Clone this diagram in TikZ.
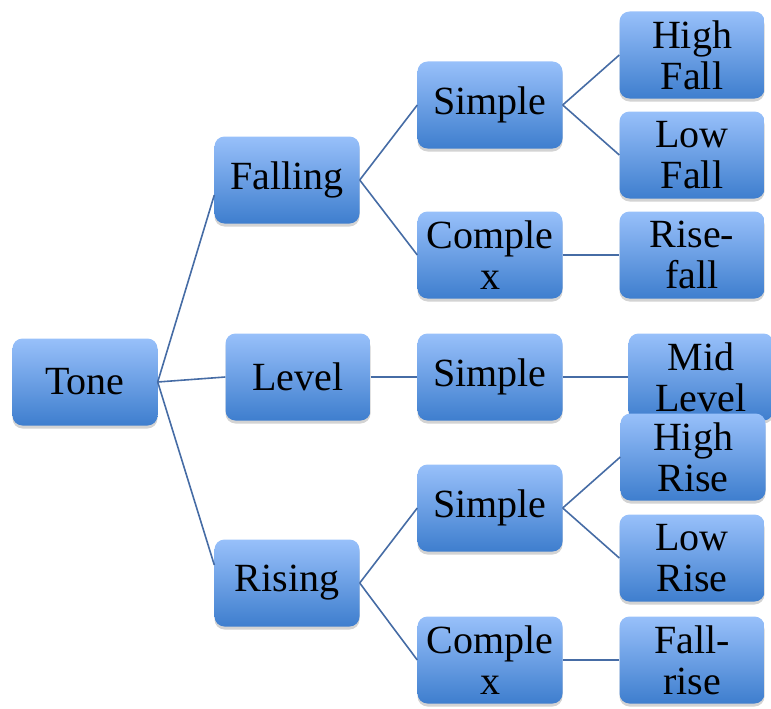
\documentclass[tikz,border=0pt]{standalone}
\usepackage{fontspec}
\setmainfont{Liberation Serif}
\usetikzlibrary{shadows}
\definecolor{boxtop}{RGB}{152,192,250}
\definecolor{boxbot}{RGB}{62,126,206}
\definecolor{linkblue}{RGB}{70,108,165}
\tikzset{
    tonebox/.style={rounded corners=10pt, minimum width=145pt, minimum height=87pt,
        top color=boxtop, bottom color=boxbot, draw=none, align=center,
        font=\fontsize{40}{41}\selectfont, inner sep=0pt,
        drop shadow={shadow xshift=0pt, shadow yshift=-3pt, opacity=0.35}},
    link/.style={draw=linkblue, line width=1.6pt}
}
\begin{document}
\begin{tikzpicture}[x=1pt,y=-1pt]
    \useasboundingbox (0,0) rectangle (771,709);

    % Racine
    \node[tonebox] (tone) at (85,382) {Tone};

    % Premier niveau
    \node[tonebox] (falling) at (287,180) {Falling};
    \node[tonebox] (level) at (298,377) {Level};
    \node[tonebox] (rising) at (287,583) {Rising};

    % Deuxieme niveau
    \node[tonebox] (fsimple) at (490,105) {Simple};
    \node[tonebox] (fcomplex) at (490,255) {Comple\\x};
    \node[tonebox] (lsimple) at (490,377) {Simple};
    \node[tonebox] (rsimple) at (490,508) {Simple};
    \node[tonebox] (rcomplex) at (490,660) {Comple\\x};

    % Feuilles
    \node[tonebox] (highfall) at (692,55) {High\\Fall};
    \node[tonebox] (lowfall) at (692,155) {Low\\Fall};
    \node[tonebox] (risefall) at (692,255) {Rise-\\fall};
    \node[tonebox] (midlevel) at (701,377) {Mid\\Level};
    \node[tonebox] (highrise) at (693,457) {High\\Rise};
    \node[tonebox] (lowrise) at (692,558) {Low\\Rise};
    \node[tonebox] (fallrise) at (692,660) {Fall-\\rise};

    % Liens
    \draw[link] (tone.east) -- ([yshift=-15pt]falling.west);
    \draw[link] (tone.east) -- (level.west);
    \draw[link] (tone.east) -- ([yshift=18pt]rising.west);
    \draw[link] (falling.east) -- (fsimple.west);
    \draw[link] (falling.east) -- (fcomplex.west);
    \draw[link] (level.east) -- (lsimple.west);
    \draw[link] (rising.east) -- (rsimple.west);
    \draw[link] (rising.east) -- (rcomplex.west);
    \draw[link] (fsimple.east) -- (highfall.west);
    \draw[link] (fsimple.east) -- (lowfall.west);
    \draw[link] (fcomplex.east) -- (risefall.west);
    \draw[link] (lsimple.east) -- (midlevel.west);
    \draw[link] (rsimple.east) -- (highrise.west);
    \draw[link] (rsimple.east) -- (lowrise.west);
    \draw[link] (rcomplex.east) -- (fallrise.west);
\end{tikzpicture}
\end{document}
